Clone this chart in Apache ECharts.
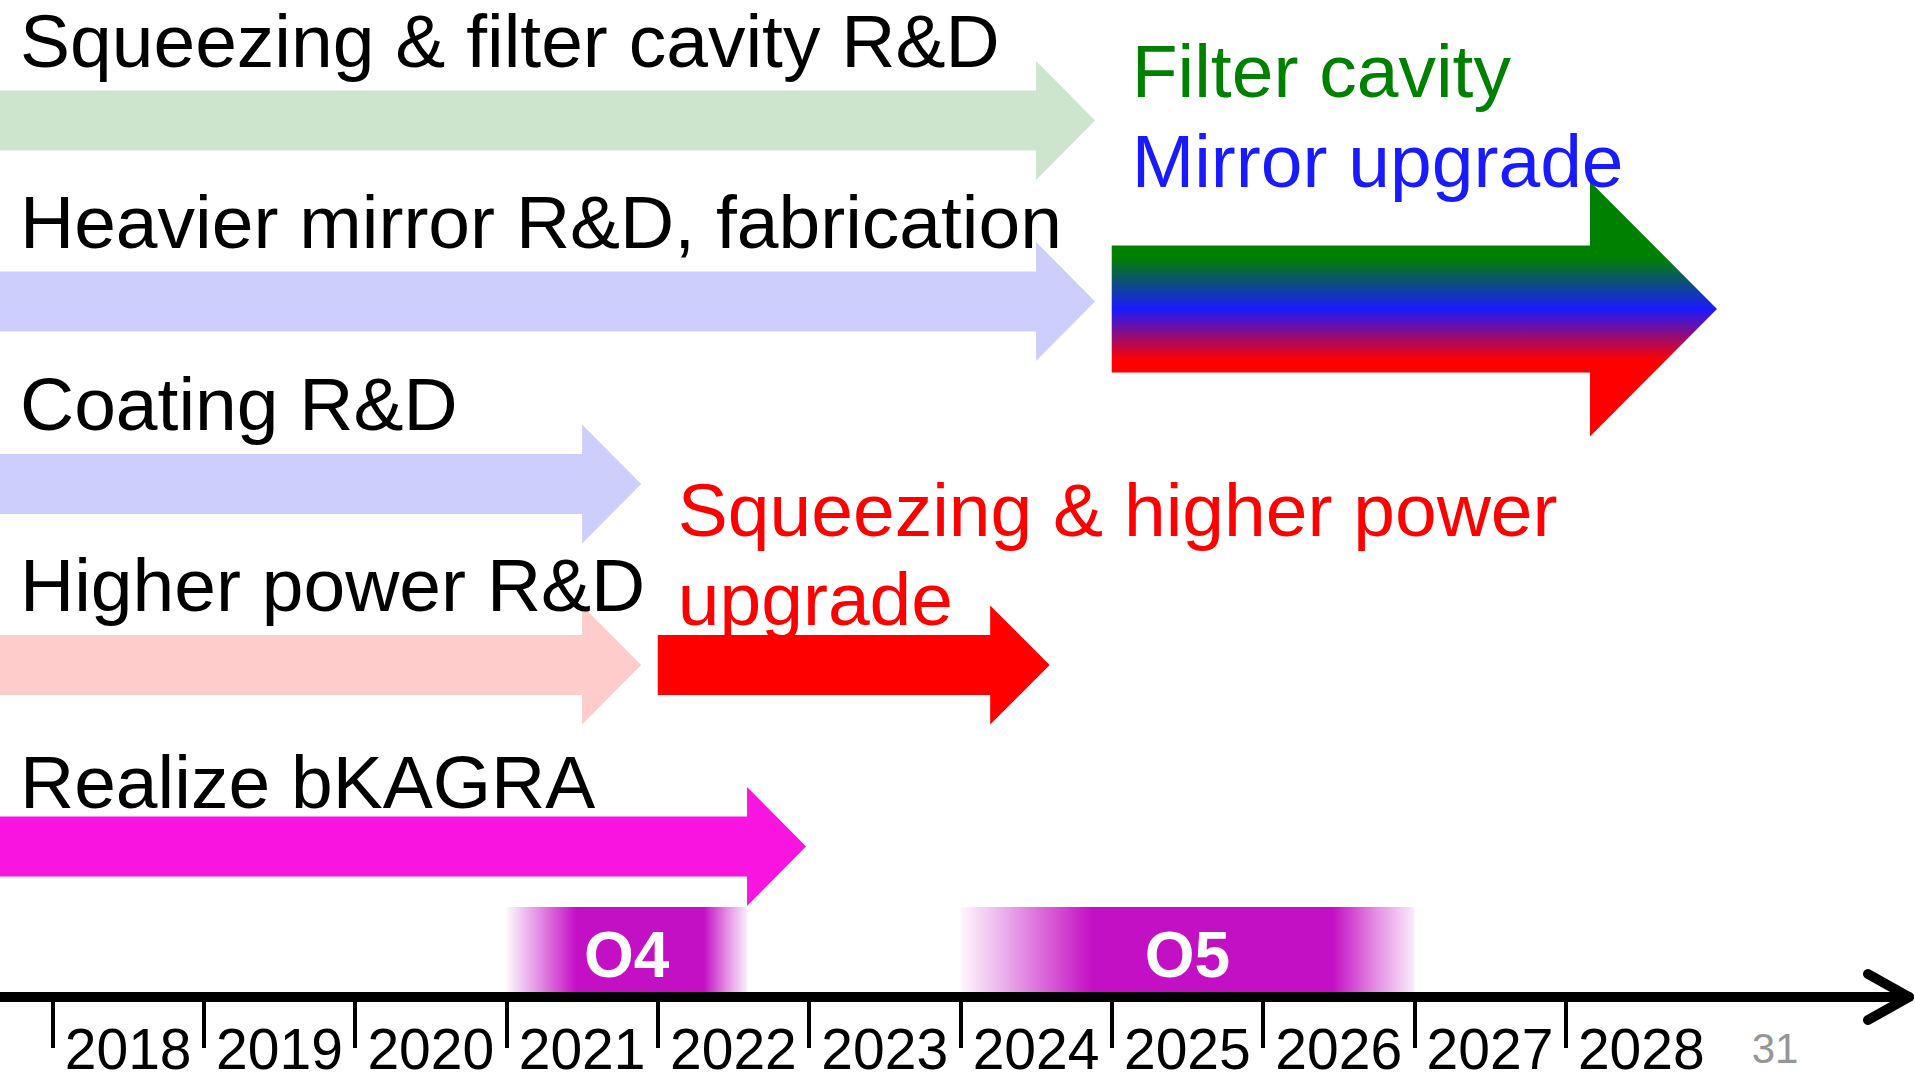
<!DOCTYPE html>
<html>
<head>
<meta charset="utf-8">
<title>bKAGRA roadmap</title>
<script src="https://cdn.jsdelivr.net/npm/echarts@6/dist/echarts.min.js"></script>
<style>
  html, body { margin: 0; padding: 0; background: #ffffff; }
  #chart { width: 1915px; height: 1081px; }
</style>
</head>
<body>
<div id="chart"></div>
<script>
// time axis
const years = [2018, 2019, 2020, 2021, 2022, 2023, 2024, 2025, 2026, 2027, 2028];
const axisMin = 2017.653;
const axisMax = 2030.269;

// R&D tasks (they all start at the left edge, value = arrow tip)
const taskNames = ['Squeezing & filter cavity R&D', 'Heavier mirror R&D, fabrication', 'Coating R&D', 'Higher power R&D', 'Realize bKAGRA'];
const taskEnd = [2024.89, 2024.89, 2021.89, 2021.89, 2022.98];

// upgrades
const upgradeNames = [['Squeezing & higher power', 'upgrade'], ['Filter cavity', 'Mirror upgrade']];
const upgradeStart = [2022.0, 2025.0];
const upgradeEnd = [2024.59, 2029.0];

// observing runs
const runNames = ['O4', 'O5'];
const runStart = [2021.0, 2024.0];
const runEnd = [2022.59, 2027.0];

// ---- layout / style (pixels) ----
const AXIS_Y = 997;
const FONT = '"Liberation Sans", Arial, sans-serif';
const taskRowY = [120.5, 301.5, 484, 665, 846.5];
const taskTextY = [67, 248, 430, 611, 808];          // baselines
const taskColors = ['#CDE5CD', '#CECEFC', '#CECEFC', '#FFCCCC', '#FA14E0'];
const upgradeRowY = [665, 309];
const upgradeTextY = [[536, 625], [97, 187]];
const upgradeTextColors = [['#FF0000', '#FF0000'], ['#008000', '#1A1AFF']];
const upgradeBody = [30, 63.5];
const upgradeHead = [59.5, 127.5];
const upgradeHeadLen = [59.5, 127];
const upgradeFill = [
  '#FF0000',
  { type: 'linear', x: 0, y: 0, x2: 0, y2: 1, colorStops: [
    { offset: 0, color: '#008000' }, { offset: 0.3, color: '#008000' },
    { offset: 0.5, color: '#1A1AFF' },
    { offset: 0.7, color: '#FF0000' }, { offset: 1, color: '#FF0000' }
  ] }
];

function arrowPoints(x0, x1, yc, body, head, headLen) {
  const xb = x1 - headLen;
  return [[x0, yc - body], [xb, yc - body], [xb, yc - head], [x1, yc],
          [xb, yc + head], [xb, yc + body], [x0, yc + body]];
}

// text positioned by its baseline
function textEl(str, x, baseline, size, color, weight, align) {
  return {
    type: 'text',
    z2: 10,
    style: {
      text: str, x: x, y: baseline - 0.35 * size,
      fill: color, font: (weight || 'normal') + ' ' + size + 'px ' + FONT,
      align: align || 'left', verticalAlign: 'middle'
    }
  };
}

const chart = echarts.init(document.getElementById('chart'), null, { renderer: 'svg' });

const option = {
  backgroundColor: '#ffffff',
  animation: false,
  grid: { left: 0, right: 6, top: 0, bottom: 1081 - AXIS_Y, containLabel: false },
  xAxis: {
    type: 'value',
    min: axisMin,
    max: axisMax,
    splitLine: { show: false },
    axisLine: { show: true, onZero: false, lineStyle: { color: '#000', width: 10 } },
    axisTick: { show: true, length: 51, customValues: years, lineStyle: { color: '#000', width: 4 } },
    axisLabel: {
      show: true, margin: 30, lineHeight: 44, color: '#000', fontSize: 57, fontFamily: FONT,
      customValues: years.map(y => y + 0.5),
      formatter: v => String(Math.floor(v))
    }
  },
  yAxis: { type: 'value', min: 0, max: AXIS_Y, inverse: true, show: false },
  graphic: [
    { type: 'text', x: 1775, y: 1063 - 0.35 * 42,
      style: { text: '31', fill: '#969696', font: '42px ' + FONT, align: 'center', verticalAlign: 'middle' } }
  ],
  series: [
    {
      name: 'runs',
      type: 'custom',
      data: runNames.map((n, i) => [runStart[i], runEnd[i], i]),
      renderItem: function (params, api) {
        const i = api.value(2);
        const a = api.coord([api.value(0), AXIS_Y]);
        const b = api.coord([api.value(1), AXIS_Y]);
        const top = AXIS_Y - 90, bottom = AXIS_Y - 5;
        return {
          type: 'group',
          children: [
            {
              type: 'rect',
              shape: { x: a[0], y: top, width: b[0] - a[0], height: bottom - top },
              style: {
                fill: { type: 'linear', x: 0, y: 0, x2: 1, y2: 0, colorStops: [
                  { offset: 0, color: 'rgba(196,16,196,0.03)' },
                  { offset: 0.1, color: 'rgba(196,16,196,0.35)' },
                  { offset: 0.29, color: 'rgba(196,16,196,1)' },
                  { offset: 0.82, color: 'rgba(196,16,196,1)' },
                  { offset: 0.92, color: 'rgba(196,16,196,0.45)' },
                  { offset: 1, color: 'rgba(196,16,196,0.08)' }
                ] }
              }
            },
            textEl(runNames[i], (a[0] + b[0]) / 2, 977, 64, '#ffffff', 'bold', 'center')
          ]
        };
      }
    },
    {
      name: 'tasks',
      type: 'custom',
      data: taskNames.map((n, i) => [axisMin, taskEnd[i], i]),
      renderItem: function (params, api) {
        const i = api.value(2);
        const yc = taskRowY[i];
        const x0 = api.coord([api.value(0), yc])[0];
        const x1 = api.coord([api.value(1), yc])[0];
        return {
          type: 'group',
          children: [
            { type: 'polygon', shape: { points: arrowPoints(x0, x1, yc, 30, 59.5, 59) },
              style: { fill: taskColors[i] } },
            textEl(taskNames[i], Math.max(x0, 0) + 20, taskTextY[i], 75, '#000000')
          ]
        };
      }
    },
    {
      name: 'upgrades',
      type: 'custom',
      data: upgradeNames.map((n, i) => [upgradeStart[i], upgradeEnd[i], i]),
      renderItem: function (params, api) {
        const i = api.value(2);
        const yc = upgradeRowY[i];
        const x0 = api.coord([api.value(0), yc])[0];
        const x1 = api.coord([api.value(1), yc])[0];
        const children = [
          { type: 'polygon', shape: { points: arrowPoints(x0, x1, yc, upgradeBody[i], upgradeHead[i], upgradeHeadLen[i]) },
            style: { fill: upgradeFill[i] } }
        ];
        upgradeNames[i].forEach((line, k) => {
          children.push(textEl(line, x0 + 20, upgradeTextY[i][k], 75, upgradeTextColors[i][k]));
        });
        return { type: 'group', children: children };
      }
    },
    {
      name: 'axisArrow',
      type: 'custom',
      data: [[axisMax]],
      renderItem: function (params, api) {
        const p = api.coord([api.value(0), AXIS_Y]);
        return {
          type: 'polyline',
          shape: { points: [[p[0] - 41, p[1] - 23], [p[0], p[1]], [p[0] - 41, p[1] + 23]] },
          style: { stroke: '#000', lineWidth: 10, lineCap: 'round', lineJoin: 'round', fill: null }
        };
      }
    }
  ]
};

chart.setOption(option);
window.addEventListener('resize', function () { chart.resize(); });
</script>
</body>
</html>
